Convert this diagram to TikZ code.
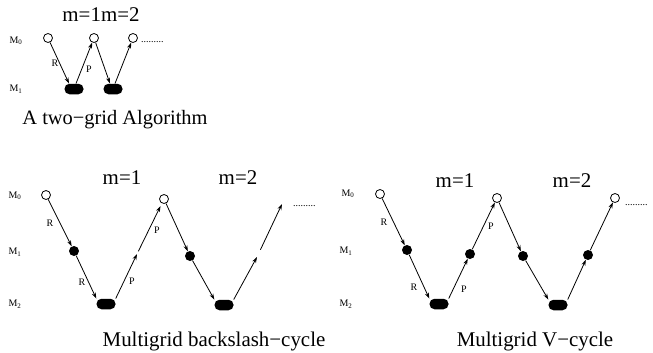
\documentclass[tikz,border=0pt]{standalone}
\usepackage{fontspec}
\setmainfont{Liberation Serif}
\usetikzlibrary{arrows.meta}

\tikzset{
  fineg/.style={circle,draw,fill=white,line width=0.8bp,inner sep=0,minimum size=9bp},
  midg/.style={circle,fill=black,inner sep=0,minimum size=10bp},
  coarseg/.style={rectangle,rounded corners=5bp,fill=black,inner sep=0,
    minimum width=19bp,minimum height=10.5bp},
  arr/.style={-{Stealth[length=6bp,width=4bp]},line width=0.8bp},
  lbl/.style={font=\fontsize{10}{12}\selectfont,inner sep=0},
  heading/.style={font=\fontsize{21}{25}\selectfont,inner sep=0,anchor=base}
}

\begin{document}
\begin{tikzpicture}[x=1bp,y=-1bp]
    \useasboundingbox (0,0) rectangle (653,352);
    % two-grid
    \node[heading] (tm) at (101,21) {m=1m=2};
    \node[lbl] (tl0) at (16,41) {M\textsubscript{0}};
    \node[lbl] (tl1) at (16,89) {M\textsubscript{1}};
    \node[fineg] (t0) at (48,38) {};
    \node[coarseg] (t1) at (74,89) {};
    \node[fineg] (t2) at (94,38) {};
    \node[coarseg] (t3) at (113,89) {};
    \node[fineg] (t4) at (133,38) {};
    \node[lbl,anchor=base west] (tdots) at (141,42) {.........};
    \draw[arr] (t0) -- ([xshift=-5]t1.north);
    \draw[arr] ([xshift=2]t1.north) -- (t2);
    \draw[arr] (t2) -- ([xshift=-3]t3.north);
    \draw[arr] ([xshift=2]t3.north) -- (t4);
    \node[lbl] (tr) at (55,63) {R};
    \node[lbl] (tp) at (89,69) {P};
    \node[heading,font=\fontsize{20.5}{25}\selectfont] (ttitle) at (115,124) {A two−grid Algorithm};
    % backslash-cycle
    \node[heading] (am1) at (122,184) {m=1};
    \node[heading] (am2) at (238,184) {m=2};
    \node[lbl] (al0) at (15,196) {M\textsubscript{0}};
    \node[lbl] (al1) at (15,252) {M\textsubscript{1}};
    \node[lbl] (al2) at (15,304) {M\textsubscript{2}};
    \node[fineg] (a0) at (46,195) {};
    \node[midg] (a1) at (74,251) {};
    \node[coarseg] (a2) at (106,304) {};
    \coordinate (a3) at (137,254);
    \node[fineg] (a4) at (164,199) {};
    \node[midg] (a5) at (190,256) {};
    \node[coarseg] (a6) at (224,305) {};
    \coordinate (a7) at (257,257);
    \coordinate (a8) at (282,204);
    \draw[arr] (a0) -- (a1);
    \draw[arr] (a1) -- (a2.north west);
    \draw[arr] (a2.north east) -- (a3);
    \draw[arr,shorten <=3bp,shorten >=3bp] (a3) -- (a4);
    \draw[arr] (a4) -- (a5);
    \draw[arr] (a5) -- (a6.north west);
    \draw[arr] (a6.north east) -- (a7);
    \draw[arr,shorten <=8bp] (a7) -- (a8);
    \node[lbl,anchor=base west] (adots) at (293,206) {.........};
    \node[lbl] (ar1) at (50,223) {R};
    \node[lbl] (ar2) at (82,282) {R};
    \node[lbl] (ap1) at (132,281) {P};
    \node[lbl] (ap2) at (157,230) {P};
    \node[heading] (atitle) at (214,346) {Multigrid backslash−cycle};
    % V-cycle
    \node[heading] (bm1) at (455,187) {m=1};
    \node[heading] (bm2) at (572,187) {m=2};
    \node[lbl] (bl0) at (348,194) {M\textsubscript{0}};
    \node[lbl] (bl1) at (346,251) {M\textsubscript{1}};
    \node[lbl] (bl2) at (346,304) {M\textsubscript{2}};
    \node[fineg] (b0) at (380,194) {};
    \node[midg] (b1) at (407,250) {};
    \node[coarseg] (b2) at (439,304) {};
    \node[midg] (b3) at (470,254) {};
    \node[fineg] (b4) at (497,198) {};
    \node[midg] (b5) at (523,256) {};
    \node[coarseg] (b6) at (558,305) {};
    \node[midg] (b7) at (588,255) {};
    \node[fineg] (b8) at (615,198) {};
    \draw[arr] (b0) -- (b1);
    \draw[arr] (b1) -- (b2.north west);
    \draw[arr] (b2.north east) -- (b3);
    \draw[arr] (b3) -- (b4);
    \draw[arr] (b4) -- (b5);
    \draw[arr] (b5) -- (b6.north west);
    \draw[arr] (b6.north east) -- (b7);
    \draw[arr] (b7) -- (b8);
    \node[lbl,anchor=base west] (bdots) at (625,205) {.........};
    \node[lbl] (br1) at (384,222) {R};
    \node[lbl] (br2) at (414,287) {R};
    \node[lbl] (bp1) at (464,289) {P};
    \node[lbl] (bp2) at (491,226) {P};
    \node[heading] (btitle) at (535,346) {Multigrid V−cycle};
\end{tikzpicture}
\end{document}
